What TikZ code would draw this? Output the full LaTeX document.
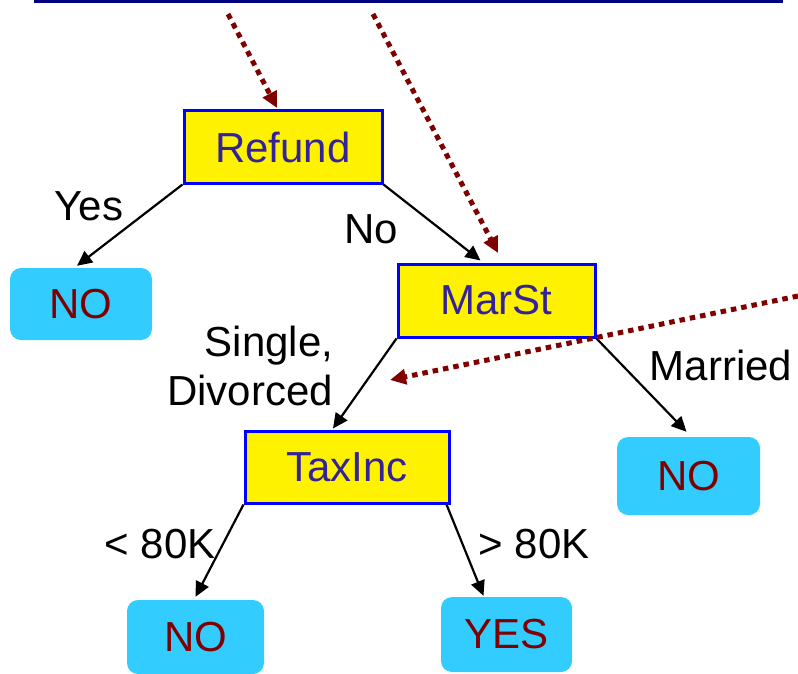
\documentclass[tikz,border=0pt]{standalone}
\usepackage{fontspec}
\setmainfont{Liberation Sans}
\usetikzlibrary{arrows.meta,calc}
\definecolor{boxtext}{RGB}{51,34,153}
\definecolor{leaftext}{RGB}{128,0,0}
\definecolor{leaffill}{RGB}{51,204,255}
\definecolor{dred}{RGB}{128,0,0}
\definecolor{navyline}{RGB}{0,0,128}
\begin{document}
\begin{tikzpicture}[x=1pt,y=-1pt,
  every node/.style={font=\fontsize{42}{50}\selectfont},
  testbox/.style={draw=blue, line width=3pt, fill=yellow, text=boxtext, inner sep=0pt},
  leafbox/.style={fill=leaffill, rounded corners=11pt, text=leaftext, inner sep=0pt},
  edge/.style={draw=black, line width=2.2pt, -{Triangle[length=15pt,width=14pt]}},
  trace/.style={draw=dred, line width=5pt, dash pattern=on 5.5pt off 5pt, -{Triangle[length=16pt,width=15pt]}},
  lbl/.style={anchor=base, text=black, inner sep=0pt}]
\useasboundingbox (0,0) rectangle (798,674);
% top line
\coordinate (tl) at (34,1.5);
\coordinate (tr) at (783,1.5);
\draw[navyline, line width=3pt] (tl) -- (tr);
% nodes
\node[testbox, minimum width=198pt, minimum height=72pt] (refund) at (283,147) {Refund};
\node[testbox, minimum width=197pt, minimum height=73pt] (marst) at (496.5,300.5) {MarSt};
\node[testbox, minimum width=204pt, minimum height=72pt] (taxinc) at (347,467) {TaxInc};
\node[leafbox, minimum width=142pt, minimum height=72pt] (no1) at (81,304) {NO};
\node[leafbox, minimum width=143pt, minimum height=78pt] (no2) at (688.5,476) {NO};
\node[leafbox, minimum width=137pt, minimum height=74pt] (no3) at (195.5,637) {NO};
\node[leafbox, minimum width=131pt, minimum height=75pt] (yes) at (506.5,634.5) {YES};
% edges
\draw[edge] (refund.south west) -- ($(no1.north)+(-4,-2)$);
\draw[edge] (refund.south east) -- ($(marst.north)+(-16,-2)$);
\draw[edge] (marst.south west) -- ($(taxinc.north)+(-14,-1)$);
\draw[edge] (marst.south east) -- ($(no2.north)+(-2,-5)$);
\draw[edge] (taxinc.south west) -- ($(no3.north)+(0,-3)$);
\draw[edge] ($(taxinc.south east)+(-4,0)$) -- ($(yes.north)+(-23,-1)$);
% labels
\node[lbl] (lyes) at (89,220) {Yes};
\node[lbl] (lno) at (371,243) {No};
\node[lbl] (lsingle) at (269,356) {Single,};
\node[lbl] (ldiv) at (250,405) {Divorced};
\node[lbl] (lmar) at (721,380) {Married};
\node[lbl] (llt) at (160,558) {< 80K};
\node[lbl] (lgt) at (534,558) {> 80K};
% dotted trace arrows
\coordinate (s1) at (228,14);
\coordinate (e1) at (277,108);
\coordinate (s2) at (373,14);
\coordinate (e2) at (498,253);
\coordinate (s3) at (798,296);
\coordinate (e3) at (390,380);
\draw[trace] (s1) -- (e1);
\draw[trace] (s2) -- (e2);
\draw[trace] (s3) -- (e3);
\end{tikzpicture}
\end{document}
